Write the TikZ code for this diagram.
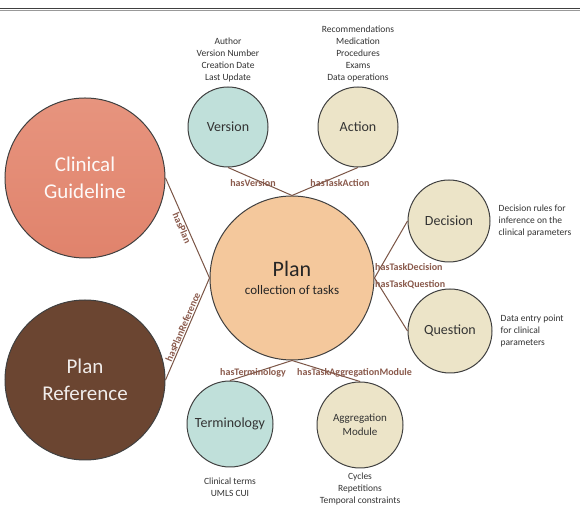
\documentclass[tikz,border=0pt]{standalone}
\usepackage{fontspec}
\setmainfont{Carlito}
\usetikzlibrary{positioning}
\definecolor{guidered}{HTML}{E0836C}
\definecolor{guidetop}{HTML}{E7947E}
\definecolor{refbrown}{HTML}{6B4531}
\definecolor{planpeach}{HTML}{F4C89C}
\definecolor{tealfill}{HTML}{C0E0DA}
\definecolor{beigefill}{HTML}{ECE4C8}
\definecolor{linkbrown}{HTML}{7B5546}
\definecolor{lblbrown}{HTML}{8A5A4C}

\begin{document}
\begin{tikzpicture}[
    x=1pt, y=1pt,
    concept/.style={circle, draw=black!75, line width=1pt, align=center, inner sep=0pt},
    bigconcept/.style={concept, minimum size=160pt, font=\fontsize{21}{27}\selectfont},
    smallconcept/.style={concept, minimum size=82pt, font=\fontsize{14}{17}\selectfont, text=black!80},
    note/.style={font=\fontsize{9.5}{12}\selectfont, text=black!80, align=center, inner sep=0pt},
    link/.style={draw=linkbrown, line width=1pt},
    lbl/.style={font=\bfseries\fontsize{10}{12}\selectfont, text=lblbrown, inner sep=1pt}
]
    \useasboundingbox[fill=white] (0,0) rectangle (580,510);
    \draw[black!75, line width=1.2pt] (0,501.5) -- (580,501.5);
    \draw[black!40, line width=0.5pt] (0,499.5) -- (580,499.5);

    \node[bigconcept, top color=guidetop, bottom color=guidered, text=white!95!guidered] (guide) at (85,332) {Clinical\\Guideline};
    \node[bigconcept, fill=refbrown, text=white!90!refbrown] (planref) at (85,130) {Plan\\Reference};
    \node[concept, minimum size=164pt, fill=planpeach, text=black!85] (plan) at (292,232)
        {{\fontsize{22}{24}\selectfont Plan}\\[6pt]{\fontsize{13}{15}\selectfont collection of tasks}};

    \node[smallconcept, minimum size=80pt, fill=tealfill] (version) at (228,383) {Version};
    \node[smallconcept, minimum size=80pt, fill=beigefill] (action) at (358,383) {Action};
    \node[smallconcept, fill=beigefill] (decision) at (449,289) {Decision};
    \node[smallconcept, minimum size=84pt, fill=beigefill] (question) at (450,179) {Question};
    \node[smallconcept, minimum size=86pt, fill=tealfill] (terminology) at (230,86) {Terminology};
    \node[smallconcept, minimum size=86pt, fill=beigefill, font=\fontsize{11}{14}\selectfont] (aggregation) at (360,85) {Aggregation\\Module};

    \node[note, above=4pt of version] (versionnote) {Author\\Version Number\\Creation Date\\Last Update};
    \node[note, above=4pt of action] (actionnote) {Recommendations\\Medication\\Procedures\\Exams\\Data operations};
    \node[note, align=left, right=8pt of decision] (decisionnote) {Decision rules for\\inference on the\\clinical parameters};
    \node[note, align=left, right=8pt of question] (questionnote) {Data entry point\\for clinical\\parameters};
    \node[note, below=10pt of terminology] (terminologynote) {Clinical terms\\UMLS CUI};
    \node[note, below=4pt of aggregation] (aggregationnote) {Cycles\\Repetitions\\Temporal constraints};

    \draw[link] (guide.east) -- node[lbl, sloped, below, pos=0.48] (hasplan) {hasPlan} (plan.west);
    \draw[link] (planref.east) -- node[lbl, sloped, above, pos=0.5] (hasplanref) {hasPlanReference} (plan.west);
    \draw[link] (version.south) -- (plan.north);
    \draw[link] (action.south) -- (plan.north);
    \draw[link] (plan.east) -- (decision.west);
    \draw[link] (plan.east) -- (question.west);
    \draw[link] (plan.south) -- (terminology.north);
    \draw[link] (plan.south) -- (aggregation.north);

    \node[lbl] (hasversion) at (253,327) {hasVersion};
    \node[lbl] (hasaction) at (340,327) {hasTaskAction};
    \node[lbl, anchor=west] (hasdecision) at (374,243) {hasTaskDecision};
    \node[lbl, anchor=west] (hasquestion) at (374,225) {hasTaskQuestion};
    \node[lbl] (hasterminology) at (253,137) {hasTerminology};
    \node[lbl, anchor=west] (hasaggregation) at (296,137) {hasTaskAggregationModule};
\end{tikzpicture}
\end{document}
